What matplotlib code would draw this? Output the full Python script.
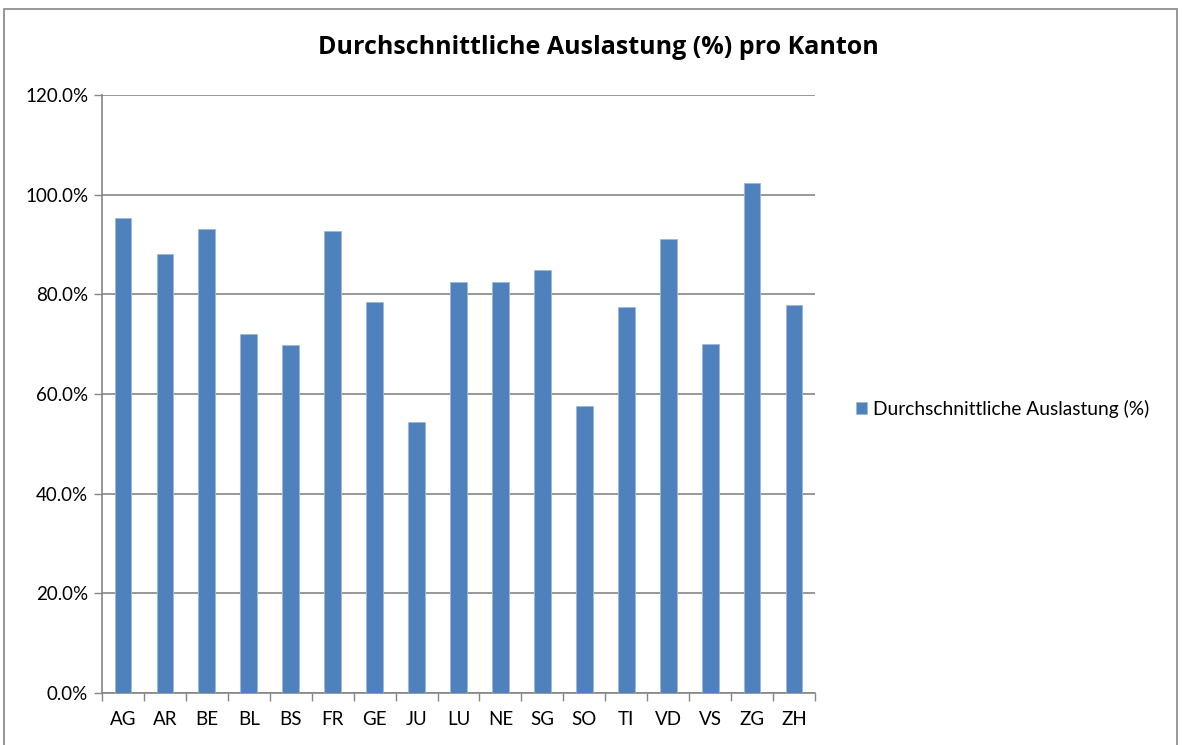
import matplotlib
matplotlib.use("Agg")
import matplotlib.pyplot as plt
from matplotlib.patches import Rectangle
from matplotlib.ticker import FuncFormatter, FixedLocator

cantons = ["AG", "AR", "BE", "BL", "BS", "FR", "GE", "JU", "LU", "NE", "SG", "SO", "TI", "VD", "VS", "ZG", "ZH"]
auslastung = [95.4, 88.0, 93.1, 72.0, 69.9, 92.7, 78.4, 54.4, 82.5, 82.5, 84.9, 57.6, 77.4, 91.2, 70.0, 102.4, 77.9]
y_ticks = [0, 20, 40, 60, 80, 100, 120]
title = "Durchschnittliche Auslastung (%) pro Kanton"
series_name = "Durchschnittliche Auslastung (%)"

plt.rcParams['font.family'] = ['Lato', 'DejaVu Sans']

W, H = 1187, 745
fig = plt.figure(figsize=(W / 100, H / 100), dpi=100)

# outer chart border
fig.patches.append(Rectangle((4 / W, -0.01), (1177 - 4) / W, (H - 9) / H + 0.01,
                             transform=fig.transFigure, fill=False,
                             edgecolor='#868686', linewidth=1.2))

ax = fig.add_axes([102 / W, (H - 693) / H, (815 - 102) / W, (693 - 95) / H])
x = list(range(len(cantons)))
bars = ax.bar(x, auslastung, width=0.4, color='#4F81BD', edgecolor='#9DB7DA',
              linewidth=0.6, label=series_name, zorder=3)

ax.set_xlim(-0.5, len(cantons) - 0.5)
ax.set_ylim(0, 120)
ax.set_yticks(y_ticks)
ax.yaxis.set_major_formatter(FuncFormatter(lambda v, p: f"{v:.1f}%"))
ax.set_xticks(x)
ax.set_xticklabels(cantons)
ax.xaxis.set_minor_locator(FixedLocator([i - 0.5 for i in range(len(cantons) + 1)]))
ax.tick_params(axis='x', which='major', length=0, pad=13, labelsize=13.5, colors='black')
ax.tick_params(axis='x', which='minor', length=6, width=1.0, color='#868686')
ax.tick_params(axis='y', which='major', length=6, width=1.0, color='#868686', labelsize=13.5, pad=4,
               labelcolor='black')

ax.grid(axis='y', color='#868686', linewidth=1.2, zorder=0)
for s in ['top', 'right']:
    ax.spines[s].set_visible(False)
for s in ['left', 'bottom']:
    ax.spines[s].set_color('#868686')
    ax.spines[s].set_linewidth(1.2)

fig.text(598 / W, 1 - 48 / H, title, ha='center', va='center', fontsize=18, fontweight='bold',
         family=['Open Sans', 'DejaVu Sans'])

ax.legend(loc='center left', bbox_to_anchor=(846 / W, 1 - 409 / H), bbox_transform=fig.transFigure,
          frameon=False, fontsize=13.8, handlelength=0.6, handleheight=0.6, handletextpad=0.3,
          borderpad=0)

fig.savefig("out.png", dpi=100, facecolor='white')
